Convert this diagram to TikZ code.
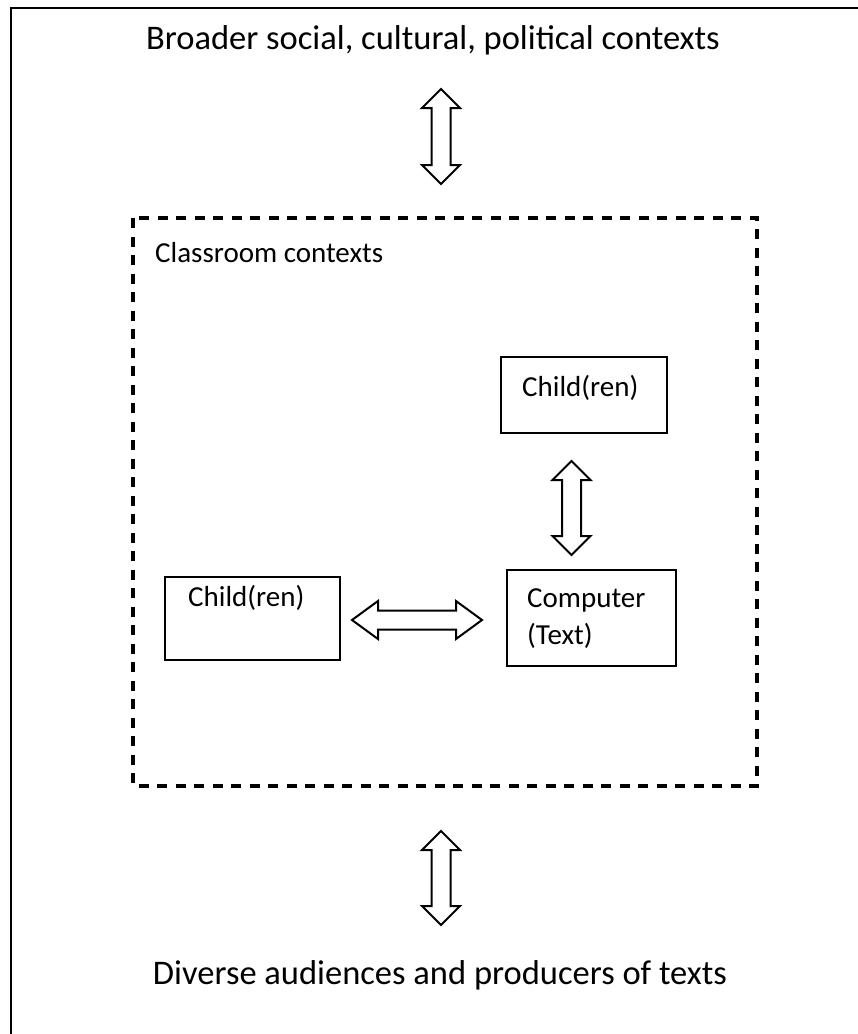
\documentclass[tikz,border=0pt]{standalone}
\usepackage{fontspec}
\setmainfont{Carlito}
\usetikzlibrary{math}
\usetikzlibrary{positioning}

\tikzset{
  frameline/.style = {line width=2pt},
  ctxbox/.style = {draw, dash pattern=on 10pt off 8.5pt, line width=3.2pt},
  agentbox/.style = {draw, line width=1.5pt, rectangle, inner sep=0pt},
  lbl/.style = {inner sep=0pt, font=\fontsize{29}{35}\selectfont},
  biglbl/.style = {lbl, font=\fontsize{34.5}{41}\selectfont},
  arrowline/.style = {line width=2pt, line join=miter, fill=white},
  pics/dblarrow/.style 2 args = {code={
    \tikzmath{\hl = #1/2; \hd = #2; \hw = 19; \sw = 9.5;}
    \draw[arrowline] (-\hl,0) -- (-\hl+\hd,\hw) -- (-\hl+\hd,\sw) -- (\hl-\hd,\sw) -- (\hl-\hd,\hw) -- (\hl,0)
      -- (\hl-\hd,-\hw) -- (\hl-\hd,-\sw) -- (-\hl+\hd,-\sw) -- (-\hl+\hd,-\hw) -- cycle;
  }}
}

\begin{document}
\begin{tikzpicture}[x=1pt, y=-1pt]

  \useasboundingbox (0,0) rectangle (858,1034);

  % outer frame (only the left and top edges show)
  \draw[frameline] (858,8) -- (11,8) -- (11,1034);

  \node[biglbl] (broader) at (433,40) {Broader social, cultural, political contexts};
  \pic[rotate=90] (arrowTop) at (441,136.5) {dblarrow={95}{19}};

  % classroom
  \draw[ctxbox] (133,218) rectangle (757,786);
  \node[lbl, anchor=west] (classroom) at (155,253) {Classroom contexts};

  \node[agentbox, minimum width=166pt, minimum height=76pt] (childTop) at (584,395) {};
  \node[lbl, anchor=west] (childTopTxt) at (522,388) {Child(ren)};

  \pic[rotate=90] (arrowMid) at (571.5,508) {dblarrow={94}{19}};

  \node[agentbox, minimum width=175pt, minimum height=83pt] (childLeft) at (252.5,618.5) {};
  \node[lbl, anchor=west] (childLeftTxt) at (188,598) {Child(ren)};

  \pic (arrowSide) at (417,620) {dblarrow={130}{26}};

  \node[agentbox, minimum width=169pt, minimum height=96pt] (computer) at (591.5,618) {};
  \node[lbl, anchor=west] (computerTxt) at (527,600) {Computer};
  \node[lbl, anchor=west] (computerTxt2) at (527,636) {(Text)};

  \pic[rotate=90] (arrowLow) at (441,878) {dblarrow={94}{19}};
  \node[biglbl] (diverse) at (440,975) {Diverse audiences and producers of texts};

\end{tikzpicture}
\end{document}
